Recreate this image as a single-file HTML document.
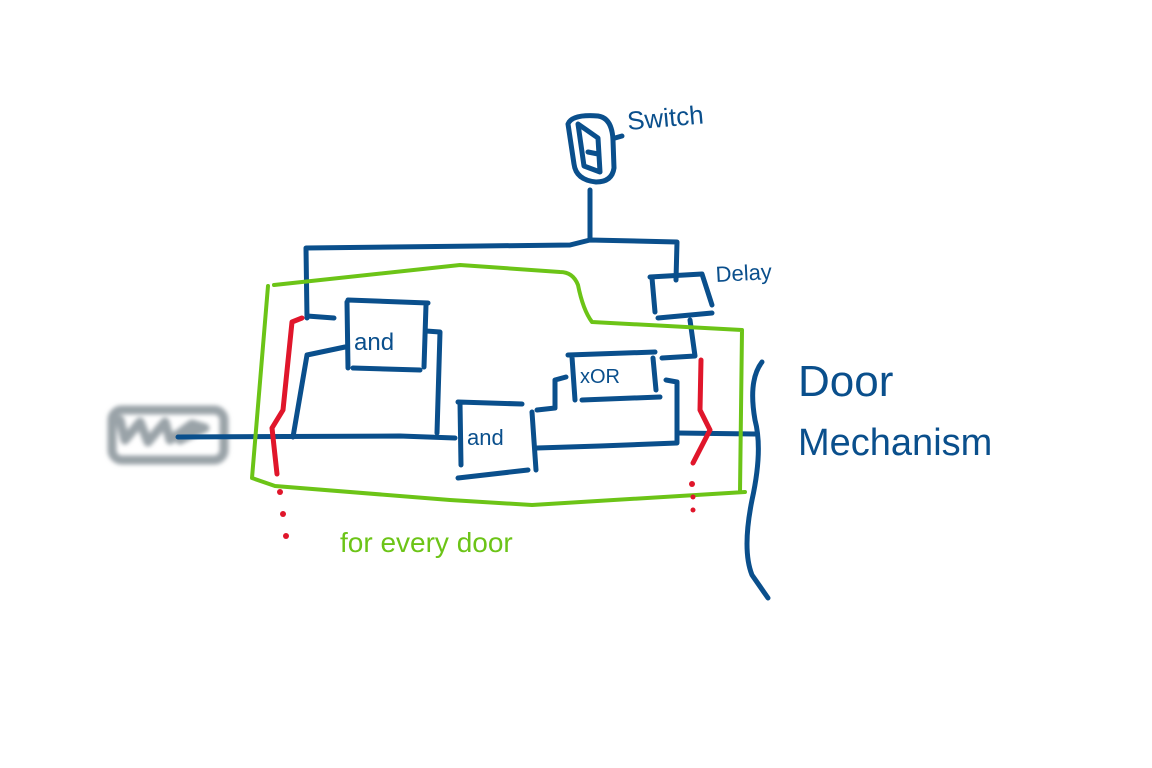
<!DOCTYPE html>
<html><head><meta charset="utf-8"><style>
html,body{margin:0;padding:0;background:#fff;width:1152px;height:768px;overflow:hidden}
svg{display:block}
text{font-family:"Liberation Sans",sans-serif}
</style></head><body>
<svg width="1152" height="768" viewBox="0 0 1152 768" xmlns="http://www.w3.org/2000/svg">
<defs><filter id="bl" x="-20%" y="-20%" width="140%" height="140%"><feGaussianBlur stdDeviation="2"/></filter></defs>
<g fill="none" stroke-linecap="round" stroke-linejoin="round">
<!-- battery -->
<g stroke="#9aa3a8" stroke-width="9" filter="url(#bl)">
<rect x="112" y="410" width="112" height="50" rx="10"/>
<path d="M120 420 L125 440 L140 422 L148 442 L165 422 L170 440 L192 424 L205 428 L180 440"/>
</g>
<g stroke="#0a4f8c" stroke-width="5">
<!-- switch -->
<path d="M568 124 Q572 114 598 116 Q612 118 613 140 L614 168 Q612 182 596 182 Q576 180 574 164 Z"/>
<path d="M578 124 L584 166 L600 172 L598 138 Z M588 152 L598 154"/>
<path d="M615 138 L622 136"/>
<path d="M590 190 L590 238"/>
<!-- top wire -->
<path d="M307 318 L306 248 L480 246 L570 245 L590 240 L677 242 L676 280"/>
<path d="M307 316 L334 318"/>
<!-- and1 -->
<path d="M347 302 L348 368 M348 300 L428 303 M426 305 L424 367 M353 368 L420 370"/>
<path d="M345 347 L307 355 L293 437"/>
<path d="M426 331 L440 332 L437 433"/>
<!-- main line -->
<path d="M178 437 L400 436 L455 438"/>
<!-- and2 -->
<path d="M460 403 L461 465 M458 402 L522 404 M532 412 L536 470 M458 478 L528 470"/>
<path d="M537 410 L555 408 L555 380 L566 377"/>
<path d="M537 448 L600 446 L677 443 L677 382 L666 380"/>
<path d="M677 433 L755 434"/>
<!-- xor -->
<path d="M568 355 L655 352 M572 357 L575 400 M653 358 L656 390 M582 400 L660 397"/>
<path d="M662 358 L695 356 L690 320"/>
<!-- delay -->
<path d="M650 277 L702 274 L712 305 M652 278 L655 312 M658 318 L712 313"/>
<!-- door -->
<path d="M762 362 Q748 380 755 420 Q763 450 752 500 Q742 550 752 575 L768 598"/>
</g>
<!-- green -->
<path stroke="#6cc417" stroke-width="4" d="M268 286 L252 478 L275 486 L450 500 L532 505 L745 492 M740 492 L742 330 L592 322 Q583 310 578 285 Q573 272 560 272 L460 265 L274 285"/>
<!-- red -->
<g stroke="#e0162b" stroke-width="5">
<path d="M302 318 L292 322 L283 410 L272 428 L277 474"/>
<path d="M701 360 L700 410 L710 430 L693 463"/>
</g>
</g>
<g fill="#e0162b">
<circle cx="280" cy="492" r="3"/><circle cx="283" cy="514" r="3"/><circle cx="286" cy="536" r="3"/>
<circle cx="692" cy="484" r="3"/><circle cx="693" cy="497" r="2.5"/><circle cx="693" cy="510" r="2.5"/>
</g>
<g fill="#0a4f8c">
<text x="354" y="350" font-size="24">and</text>
<text x="467" y="445" font-size="22">and</text>
<text x="580" y="383" font-size="20">xOR</text>
<text x="628" y="130" font-size="26" transform="rotate(-5 628 130)">Switch</text>
<text x="716" y="282" font-size="22" transform="rotate(-3 716 282)">Delay</text>
<text x="798" y="396" font-size="44">Door</text>
<text x="798" y="455" font-size="38">Mechanism</text>
</g>
<text x="340" y="552" font-size="28" fill="#6cc417">for every door</text>
</svg>
</body></html>
